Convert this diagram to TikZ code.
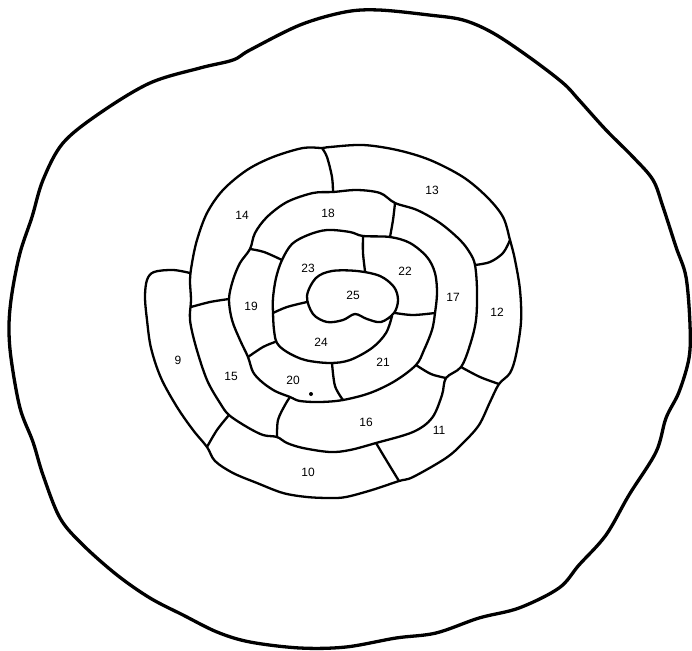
\documentclass[tikz,border=0pt]{standalone}
\usepackage{fontspec}
\setmainfont{Liberation Sans}
\begin{document}
\begin{tikzpicture}[x=1pt,y=-1pt,
  wall/.style={line width=2.3pt,line join=round,line cap=round},
  rim/.style={line width=3.3pt,line join=round},
  num/.style={font=\fontsize{12}{12}\selectfont,inner sep=0pt}]
\useasboundingbox (0,0) rectangle (692,650);
% outer blob
\draw[rim] plot[smooth cycle,tension=0.55] coordinates {(345,12) (379,10) (429,15) (463,20) (493,33) (529,57) (563,83) (579,100) (606,130) (633,157) (653,180) (663,207) (676,247) (686,277) (690,325) (689,358) (679,392) (666,418) (656,452) (629,495) (606,535) (579,565) (559,588) (519,608) (479,618) (436,633) (396,638) (346,647) (300,648) (250,642) (217,632) (183,615) (150,598) (117,575) (83,545) (60,518) (43,475) (33,442) (20,408) (11,358) (9,325) (12,293) (20,253) (32,217) (43,180) (63,143) (100,113) (150,83) (200,68) (233,60) (250,50) (300,25)};
% main spiral wall, inner end to outer end
\draw[wall] plot[smooth,tension=0.55] coordinates {(392,316) (386,333) (372,348) (350,360) (330,363) (305,360) (287,352) (277,343) (274,330) (273,313) (273,298) (276,278) (282,260) (292,244) (308,235) (327,230) (350,232) (363,236) (390,237) (410,243) (427,257) (435,273) (437,293) (435,313) (432,330) (424,350) (416,365) (395,381) (370,393) (343,400) (320,402) (300,401) (290,397) (275,391) (262,382) (253,372) (248,357) (240,340) (232,320) (229,299) (233,280) (240,263) (250,249) (255,233) (267,217) (287,202) (313,193) (333,192) (357,190) (380,193) (395,203) (417,210) (440,223) (460,240) (470,253) (475,265) (477,290) (476,320) (470,345) (461,367) (446,378) (442,395) (432,418) (413,432) (376,443) (350,450) (330,452) (303,448) (287,443) (277,437) (263,435) (247,427) (229,415) (220,403) (207,380) (196,347) (190,320) (191,300) (190,280) (192,263) (197,240) (207,213) (223,190) (247,170) (273,157) (303,148) (322,148) (330,147) (363,145) (397,150) (430,160) (463,177) (487,197) (503,217) (510,240) (515,260) (520,290) (521,322) (516,355) (510,373) (499,384) (490,402) (479,425) (463,443) (446,458) (413,477) (399,481) (372,490) (346,497) (330,498) (307,497) (283,493) (257,483) (233,473) (215,461) (207,447) (193,430) (177,407) (161,378) (151,348) (147,320) (145,297) (147,280) (154,272) (173,270) (190,273)};
% cell 25
\draw[wall] plot[smooth cycle,tension=0.55] coordinates {(307,296) (316,278) (332,271) (357,271) (380,276) (394,287) (398,300) (394,313) (381,322) (367,319) (355,314) (343,320) (327,322) (313,314)};
% dividers
\draw[wall] plot[smooth,tension=0.55] coordinates {(273,313) (287,307) (307,302)};
\draw[wall] plot[smooth,tension=0.55] coordinates {(363,237) (363,253) (365,271)};
\draw[wall] plot[smooth,tension=0.55] coordinates {(395,313) (413,315) (435,313)};
\draw[wall] plot[smooth,tension=0.55] coordinates {(332,363) (335,386) (343,400)};
\draw[wall] plot[smooth,tension=0.55] coordinates {(248,357) (263,347) (275,342)};
\draw[wall] plot[smooth,tension=0.55] coordinates {(250,249) (264,252) (282,260)};
\draw[wall] plot[smooth,tension=0.55] coordinates {(395,203) (393,220) (390,237)};
\draw[wall] plot[smooth,tension=0.55] coordinates {(416,365) (431,374) (446,378)};
\draw[wall] plot[smooth,tension=0.55] coordinates {(290,397) (285,405) (278,420) (277,437)};
\draw[wall] plot[smooth,tension=0.55] coordinates {(191,307) (210,302) (229,299)};
\draw[wall] plot[smooth,tension=0.55] coordinates {(322,148) (327,157) (332,177) (333,192)};
\draw[wall] plot[smooth,tension=0.55] coordinates {(475,265) (490,262) (503,253) (510,240)};
\draw[wall] plot[smooth,tension=0.55] coordinates {(461,367) (480,377) (499,384)};
\draw[wall] plot[smooth,tension=0.55] coordinates {(376,443) (388,463) (399,481)};
\draw[wall] plot[smooth,tension=0.55] coordinates {(229,415) (217,430) (207,447)};
% dot in cell 20
\fill (311,394) circle (2pt);
% labels
\node[num] (n9)  at (178,360) {9};
\node[num] (n10) at (308,472) {10};
\node[num] (n11) at (439,430) {11};
\node[num] (n12) at (497,312) {12};
\node[num] (n13) at (432,190) {13};
\node[num] (n14) at (242,215) {14};
\node[num] (n15) at (231,376) {15};
\node[num] (n16) at (366,422) {16};
\node[num] (n17) at (453,297) {17};
\node[num] (n18) at (328,213) {18};
\node[num] (n19) at (251,306) {19};
\node[num] (n20) at (293,380) {20};
\node[num] (n21) at (383,362) {21};
\node[num] (n22) at (405,271) {22};
\node[num] (n23) at (308,268) {23};
\node[num] (n24) at (321,342) {24};
\node[num] (n25) at (353,295) {25};
\end{tikzpicture}
\end{document}
